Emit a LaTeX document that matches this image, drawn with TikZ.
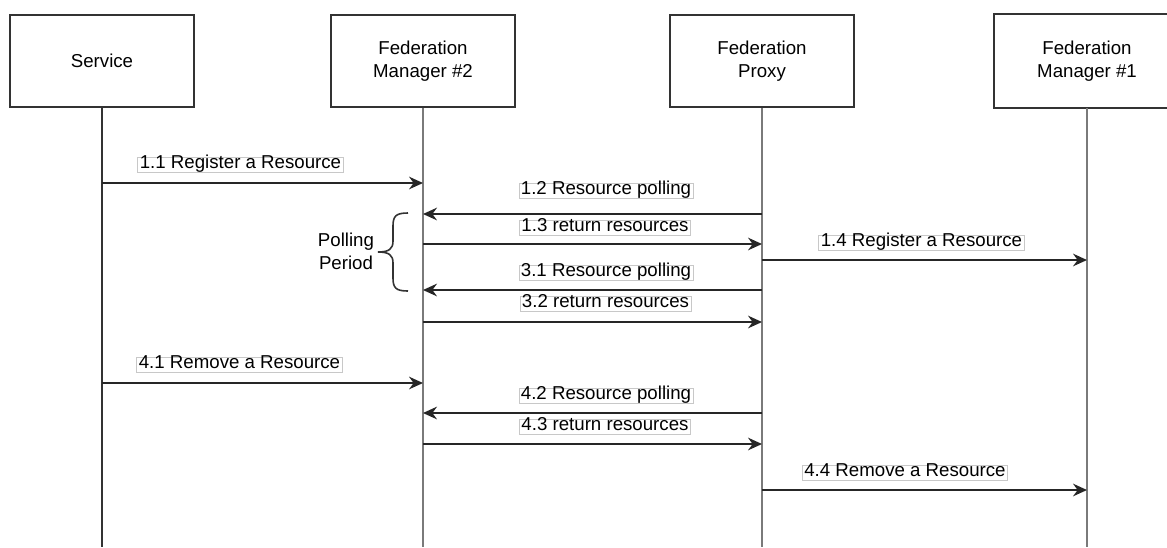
\documentclass[tikz,border=0pt]{standalone}
\usepackage{fontspec}
\setmainfont{Liberation Sans}
\usetikzlibrary{arrows.meta}
\definecolor{boxline}{HTML}{333333}
\definecolor{lifegray}{HTML}{7A7A7A}
\definecolor{lblframe}{HTML}{C8C8C8}
\begin{document}
\begin{tikzpicture}[x=0.75pt,y=-0.75pt,
  every node/.style={font=\fontsize{14pt}{17pt}\selectfont},
  actorshape/.style={line width=1.6pt,fill=white,minimum width=138pt,minimum height=69pt,align=center,inner sep=0pt},
  actor/.style={actorshape,draw=boxline},
  life/.style={draw=lifegray,line width=1.4pt},
  lifedark/.style={draw=boxline,line width=1.4pt},
  msg/.style={draw=black!85,line width=1.3pt,-{Stealth[length=10.5pt,width=9.5pt,inset=3.5pt]}},
  lbl/.style={draw=lblframe,line width=0.6pt,fill=white,inner xsep=1.5pt,inner ysep=1pt,text height=0.74em,text depth=0.2em}]
\useasboundingbox (0,0) rectangle (1167,547);
\clip (0,0) rectangle (1167,547);

% participants
\node[actor] (svc) at (102,61) {Service};
\node[actor] (fm2) at (423,61) {Federation\\Manager \#2};
\node[actor] (prx) at (762,61) {Federation\\Proxy};
\node[actorshape] (fm1) at (1087,61) {Federation\\Manager \#1};
% the last box runs past the right border, so only three sides show
\draw[boxline,line width=1.6pt] (fm1.north east) -- (fm1.north west) -- (fm1.south west) -- (fm1.south east);

% lifeline ends
\coordinate (svcE) at (102,547);
\coordinate (fm2E) at (423,547);
\coordinate (prxE) at (762,547);
\coordinate (fm1E) at (1087,547);
\draw[lifedark] (svc.south) -- (svcE);
\draw[life] (fm2.south) -- (fm2E);
\draw[life] (prx.south) -- (prxE);
\draw[life] (fm1.south) -- (fm1E);

% message anchor points on the lifelines
\coordinate (s11) at (102,183);  \coordinate (m11) at (423,183);
\coordinate (p12) at (762,214);  \coordinate (m12) at (423,214);
\coordinate (m13) at (423,244);  \coordinate (p13) at (762,244);
\coordinate (p14) at (762,260);  \coordinate (f14) at (1087,260);
\coordinate (p31) at (762,290);  \coordinate (m31) at (423,290);
\coordinate (m32) at (423,322);  \coordinate (p32) at (762,322);
\coordinate (s41) at (102,383);  \coordinate (m41) at (423,383);
\coordinate (p42) at (762,413);  \coordinate (m42) at (423,413);
\coordinate (m43) at (423,444);  \coordinate (p43) at (762,444);
\coordinate (p44) at (762,490);  \coordinate (f44) at (1087,490);

% messages
\draw[msg] (s11) -- (m11);
\draw[msg] (p12) -- (m12);
\draw[msg] (m13) -- (p13);
\draw[msg] (p14) -- (f14);
\draw[msg] (p31) -- (m31);
\draw[msg] (m32) -- (p32);
\draw[msg] (s41) -- (m41);
\draw[msg] (p42) -- (m42);
\draw[msg] (m43) -- (p43);
\draw[msg] (p44) -- (f44);

% message labels
\node[lbl] (l11) at (240.5,165) {1.1 Register a Resource};
\node[lbl] (l12) at (606,191) {1.2 Resource polling};
\node[lbl] (l13) at (605,227.5) {1.3 return resources};
\node[lbl] (l14) at (921.5,242.5) {1.4 Register a Resource};
\node[lbl] (l31) at (606,273) {3.1 Resource polling};
\node[lbl] (l32) at (605.5,303.5) {3.2 return resources};
\node[lbl] (l41) at (239.5,365) {4.1 Remove a Resource};
\node[lbl] (l42) at (606,396) {4.2 Resource polling};
\node[lbl] (l43) at (605,426.5) {4.3 return resources};
\node[lbl] (l44) at (905,473) {4.4 Remove a Resource};

% polling period brace
\draw[boxline,line width=1.2pt]
  (408,213) .. controls (396,213) and (393,216) .. (393,226)
  -- (393,241) .. controls (393,249) and (389,252) .. (378,252)
  .. controls (389,252) and (393,255) .. (393,263)
  -- (393,278) .. controls (393,288) and (396,291) .. (408,291);
\node[align=center,inner sep=0pt] (poll) at (346,251) {Polling\\Period};
\end{tikzpicture}
\end{document}
